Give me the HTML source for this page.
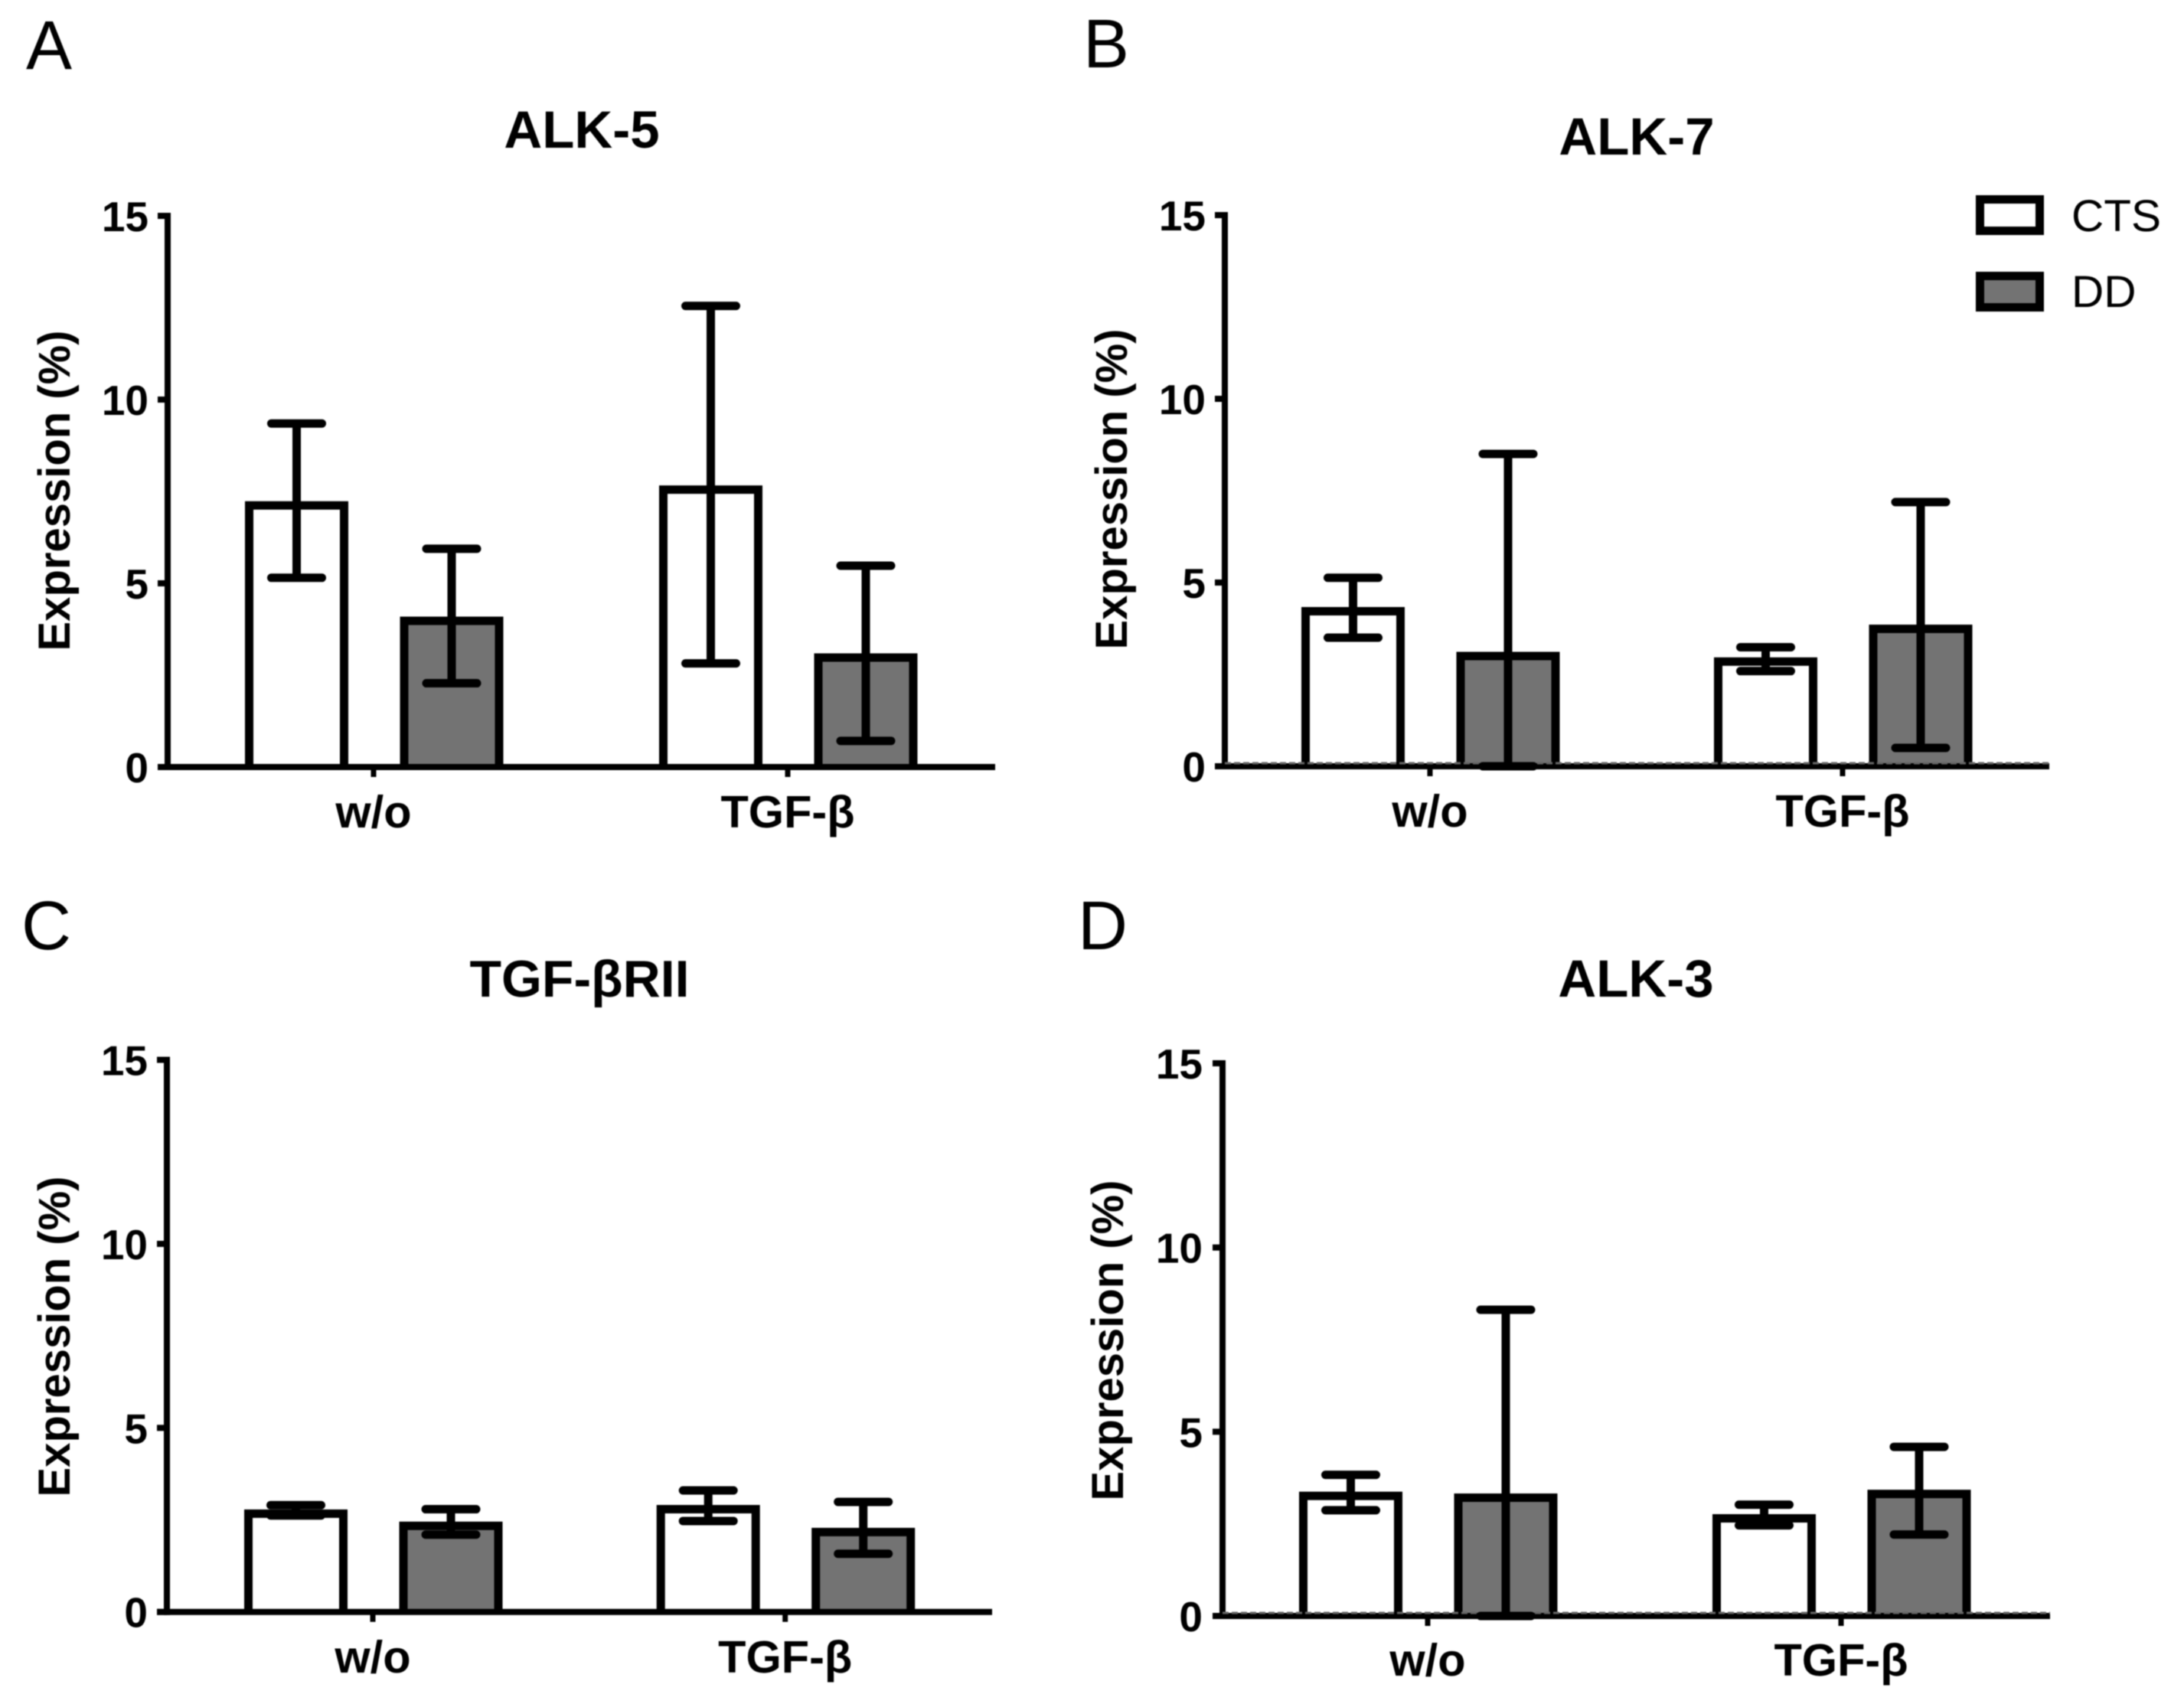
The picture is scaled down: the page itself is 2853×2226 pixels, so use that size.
<!DOCTYPE html>
<html>
<head>
<meta charset="utf-8">
<title>Receptor expression panels</title>
<style>
html,body{margin:0;padding:0;background:#fff;}
svg{display:block;filter:blur(0.7px);}
text{font-family:"Liberation Sans",sans-serif;fill:#000;}
.b{font-weight:bold;}
</style>
</head>
<body>
<svg id="figure" xmlns="http://www.w3.org/2000/svg" width="2853" height="2226" viewBox="0 0 2853 2226">
<rect width="2853" height="2226" fill="#fff"/>
<text x="34" y="90" font-size="90">A</text>
<text x="1415" y="88" font-size="90">B</text>
<text x="28" y="1240" font-size="90">C</text>
<text x="1408" y="1240" font-size="90">D</text>
<text class="b" x="760" y="193" font-size="69" text-anchor="middle">ALK-5</text>
<text class="b" x="2138" y="202" font-size="69" text-anchor="middle">ALK-7</text>
<text class="b" x="757" y="1302" font-size="68" text-anchor="middle">TGF-βRII</text>
<text class="b" x="2137" y="1302" font-size="69" text-anchor="middle">ALK-3</text>
<text class="b" transform="translate(91,641) rotate(-90)" font-size="58" text-anchor="middle">Expression (%)</text>
<text class="b" transform="translate(1472,639) rotate(-90)" font-size="58" text-anchor="middle">Expression (%)</text>
<text class="b" transform="translate(91,1746) rotate(-90)" font-size="58" text-anchor="middle">Expression (%)</text>
<text class="b" transform="translate(1467,1751) rotate(-90)" font-size="58" text-anchor="middle">Expression (%)</text>
<g>
<rect x="2586.5" y="260.5" width="78" height="41" fill="#fff" stroke="#000" stroke-width="11"/>
<text x="2706" y="302" font-size="58.5">CTS</text>
<rect x="2586.5" y="360.5" width="78" height="41" fill="#737373" stroke="#000" stroke-width="11"/>
<text x="2706" y="401" font-size="58.5">DD</text>
</g>
<g id="panels"></g>
</svg>
<script>
const categories = ['w/o', 'TGF-β'];
const yTickValues = [0, 5, 10, 15];

const alk5CtsMean = [7.12, 7.55];
const alk5CtsHigh = [9.35, 12.55];
const alk5CtsLow = [5.15, 2.82];
const alk5DdMean = [3.98, 2.98];
const alk5DdHigh = [5.94, 5.48];
const alk5DdLow = [2.28, 0.71];

const alk7CtsMean = [4.22, 2.85];
const alk7CtsHigh = [5.13, 3.24];
const alk7CtsLow = [3.5, 2.59];
const alk7DdMean = [3.0, 3.74];
const alk7DdHigh = [8.5, 7.19];
const alk7DdLow = [0, 0.5];

const rii2CtsMean = [2.67, 2.79];
const rii2CtsHigh = [2.9, 3.3];
const rii2CtsLow = [2.62, 2.47];
const rii2DdMean = [2.34, 2.17];
const rii2DdHigh = [2.79, 2.99];
const rii2DdLow = [2.1, 1.58];

const alk3CtsMean = [3.26, 2.65];
const alk3CtsHigh = [3.83, 3.02];
const alk3CtsLow = [2.87, 2.46];
const alk3DdMean = [3.21, 3.31];
const alk3DdHigh = [8.31, 4.59];
const alk3DdLow = [0, 2.21];

const NS = 'http://www.w3.org/2000/svg';
const Y_MAX = 15;

function mk(parent, tag, attrs) {
  const el = document.createElementNS(NS, tag);
  for (const k in attrs) el.setAttribute(k, attrs[k]);
  parent.appendChild(el);
  return el;
}

function drawBar(g, x, top, base, fill, name) {
  const left = x - 62;
  const right = x + 62;
  const r = mk(g, 'path', {
    d: 'M' + left + ' ' + base + 'V' + top + 'H' + right + 'V' + base,
    fill: fill, stroke: '#000', 'stroke-width': 11, 'stroke-linejoin': 'miter'
  });
  
  
}

function drawError(g, x, yHigh, yLow, name) {
  const e = mk(g, 'path', {
    d: 'M' + x + ' ' + yHigh + 'V' + yLow + 'M' + (x - 33) + ' ' + yHigh + 'H' + (x + 33) + 'M' + (x - 33) + ' ' + yLow + 'H' + (x + 33),
    fill: 'none', stroke: '#000', 'stroke-width': 11, 'stroke-linecap': 'round'
  });
  
  
}

function drawPanel(id, geo, ctsMean, ctsHigh, ctsLow, ddMean, ddHigh, ddLow) {
  const root = document.getElementById('panels');
  const g = mk(root, 'g', {});
  
  

  const yScale = function (v) { return geo.y0 - v * (geo.y0 - geo.yTop) / Y_MAX; };
  const xScale = function (i) { return geo.t0 + i * (geo.t1 - geo.t0); };

  categories.forEach(function (cat, i) {
    const cx = xScale(i);
    drawBar(g, cx - 100.5, yScale(ctsMean[i]), geo.y0, '#fff', 'bar-cts-' + id + '-' + i);
    drawBar(g, cx + 102, yScale(ddMean[i]), geo.y0, '#737373', 'bar-dd-' + id + '-' + i);
  });

  const yAxis = mk(g, 'path', {d: 'M' + geo.x0 + ' ' + (geo.yTop - 4) + 'V' + (geo.y0 + 4), stroke: '#000', 'stroke-width': 8, fill: 'none'});
  
  

  const xAxis = mk(g, 'path', {d: 'M' + (geo.x0 - 13) + ' ' + geo.y0 + 'H' + geo.xEnd, stroke: '#000', 'stroke-width': 8, fill: 'none'});
  
  

  if (geo.dotted) {
    const d = mk(g, 'path', {d: 'M' + geo.x0 + ' ' + (geo.y0 - 4) + 'H' + geo.xEnd, stroke: '#666', 'stroke-width': 3, 'stroke-dasharray': '8 4', fill: 'none'});
    
    
  }

  categories.forEach(function (cat, i) {
    const cx = xScale(i);
    drawError(g, cx - 100.5, yScale(ctsHigh[i]), yScale(ctsLow[i]), 'error-cts-' + id + '-' + i);
    drawError(g, cx + 102, yScale(ddHigh[i]), yScale(ddLow[i]), 'error-dd-' + id + '-' + i);
  });

  yTickValues.forEach(function (v) {
    const y = yScale(v);
    const t = mk(g, 'path', {d: 'M' + (geo.x0 - 13) + ' ' + y + 'H' + geo.x0, stroke: '#000', 'stroke-width': 8, fill: 'none'});
    
    
    const l = mk(g, 'text', {x: geo.labelRight, y: y + 20, 'font-size': 55, 'text-anchor': 'end', 'class': 'b'});
    
    
    l.textContent = String(v);
  });

  categories.forEach(function (cat, i) {
    const cx = xScale(i);
    const t = mk(g, 'path', {d: 'M' + cx + ' ' + geo.y0 + 'V' + (geo.y0 + 13), stroke: '#000', 'stroke-width': 7, fill: 'none'});
    
    
    const l = mk(g, 'text', {x: cx, y: geo.catY, 'font-size': 59.5, 'text-anchor': 'middle', 'class': 'b'});
    
    
    l.textContent = cat;
  });
}

drawPanel('alk-5', {x0: 219, t0: 488, t1: 1029, xEnd: 1300, yTop: 282, y0: 1002, labelRight: 194, catY: 1081, dotted: false},
  alk5CtsMean, alk5CtsHigh, alk5CtsLow, alk5DdMean, alk5DdHigh, alk5DdLow);
drawPanel('alk-7', {x0: 1600, t0: 1868, t1: 2407, xEnd: 2677, yTop: 281, y0: 1001, labelRight: 1575, catY: 1080, dotted: true},
  alk7CtsMean, alk7CtsHigh, alk7CtsLow, alk7DdMean, alk7DdHigh, alk7DdLow);
drawPanel('tgf-beta-rii', {x0: 218, t0: 487, t1: 1025.7, xEnd: 1296, yTop: 1384.5, y0: 2105.7, labelRight: 193, catY: 2185, dotted: false},
  rii2CtsMean, rii2CtsHigh, rii2CtsLow, rii2DdMean, rii2DdHigh, rii2DdLow);
drawPanel('alk-3', {x0: 1597, t0: 1865, t1: 2405, xEnd: 2678, yTop: 1389, y0: 2111, labelRight: 1571, catY: 2189, dotted: true},
  alk3CtsMean, alk3CtsHigh, alk3CtsLow, alk3DdMean, alk3DdHigh, alk3DdLow);
</script>
</body>
</html>
